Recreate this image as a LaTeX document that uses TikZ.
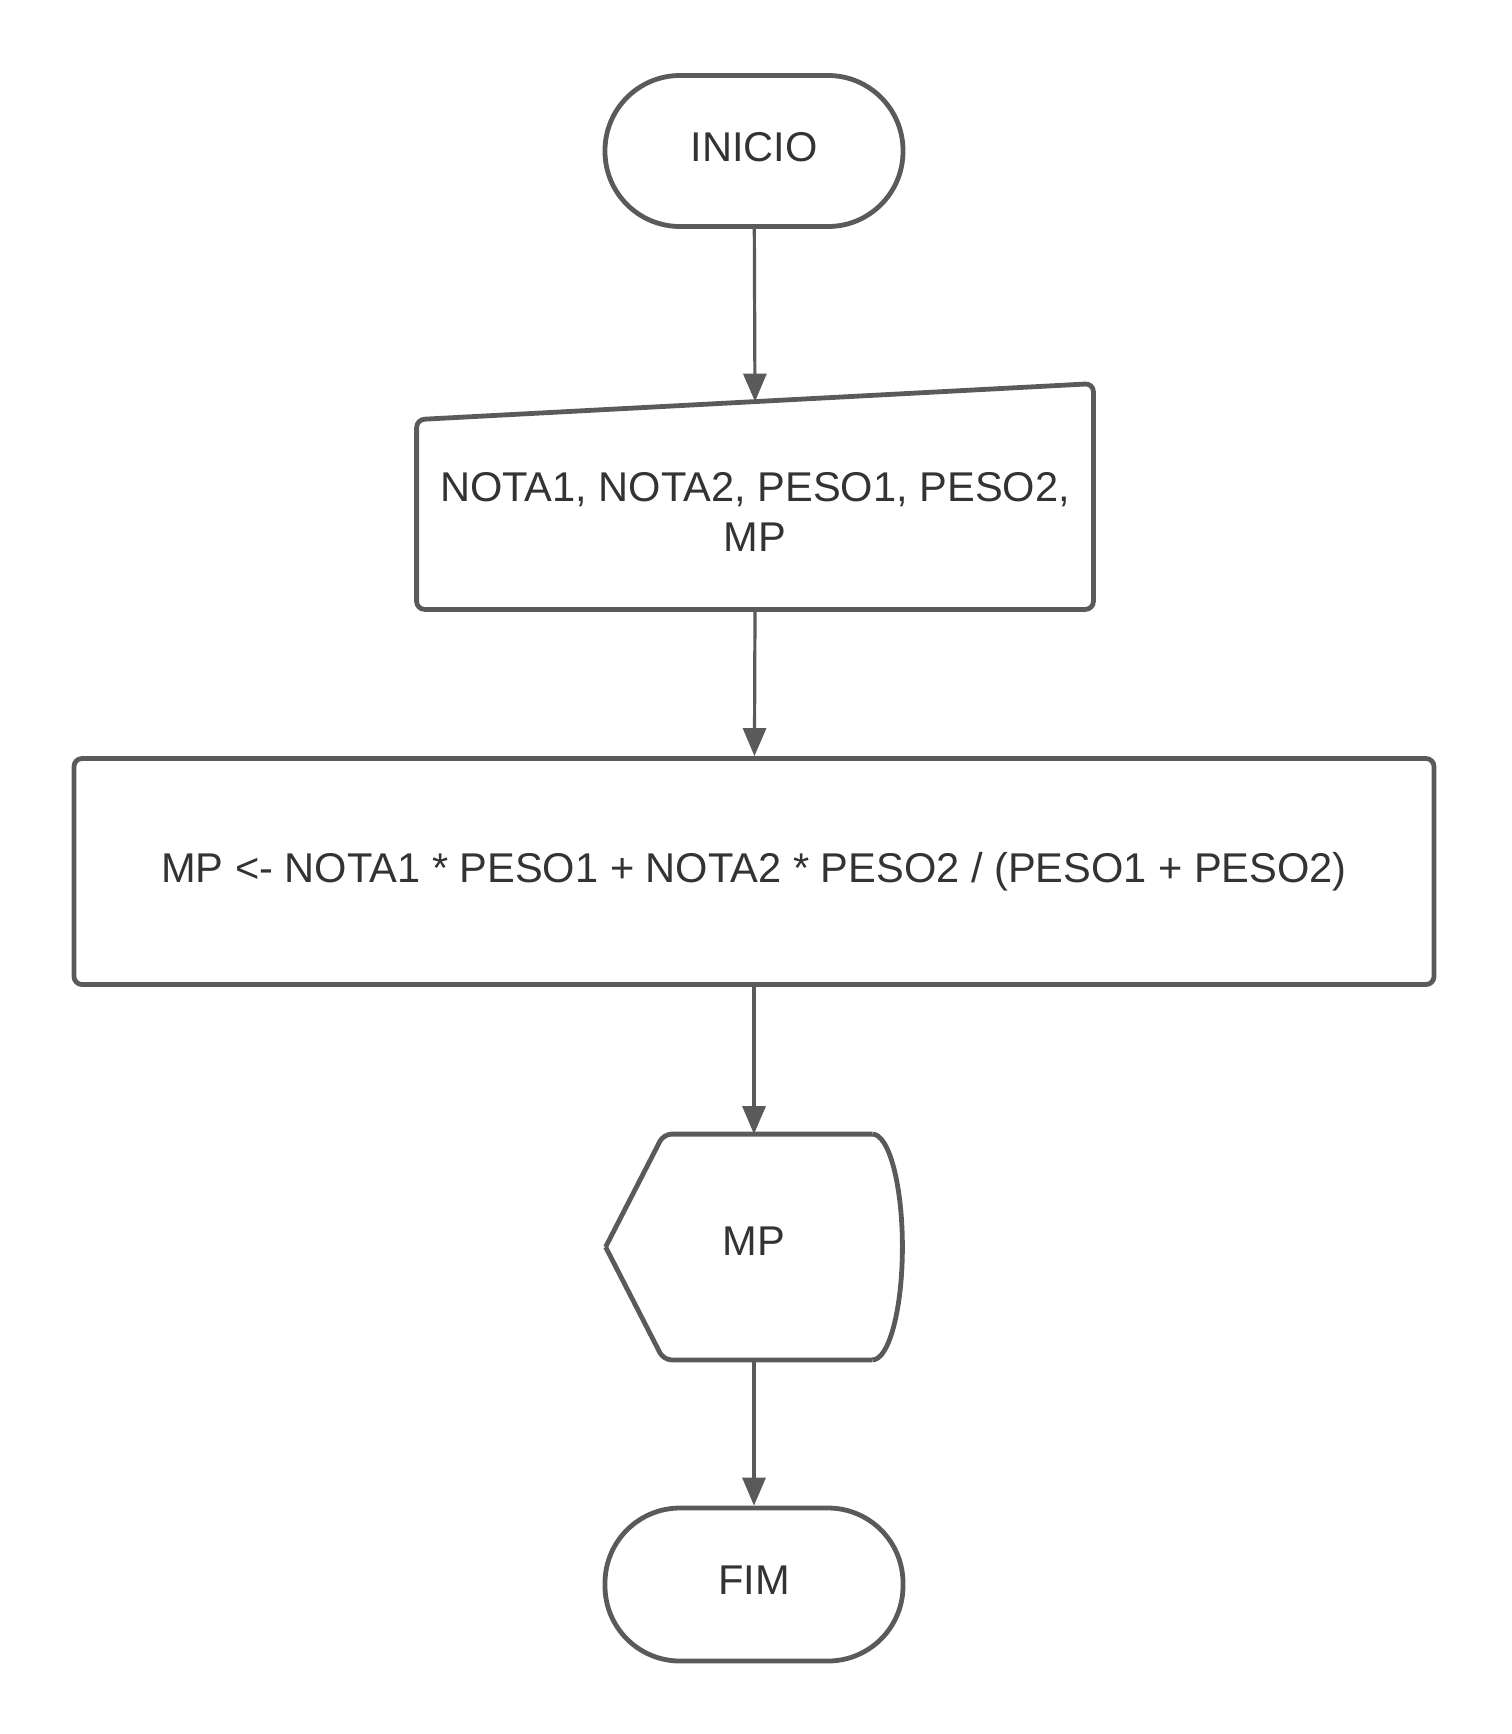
\documentclass[tikz,border=0pt]{standalone}
\usepackage{fontspec}
\setmainfont{Liberation Sans}
\usetikzlibrary{arrows.meta}
\definecolor{linegray}{HTML}{5A5A5A}
\definecolor{textgray}{HTML}{333333}
\begin{document}
\begin{tikzpicture}[x=0.5pt, y=-0.5pt,
            every node/.style={font=\fontsize{20.8pt}{25pt}\selectfont, text=textgray, align=center},
            shapeline/.style={draw=linegray, line width=2.4pt, line join=round},
            terminal/.style={shapeline, rectangle, rounded corners=37.5pt, minimum width=149pt, minimum height=75.5pt},
            procbox/.style={shapeline, rectangle, rounded corners=4pt, minimum width=680pt, minimum height=113pt},
            blank/.style={inner sep=0pt},
            flow/.style={draw=linegray, line width=1.6pt, -{Triangle[length=14pt, width=11.5pt]}}]
            \useasboundingbox (0, 0) rectangle (1511, 1734);

            \node[terminal] (inicio) at (754, 151) {\raisebox{4pt}{INICIO}};

            \node[blank, minimum width=338pt, minimum height=97pt] (input) at (755, 512)
                {NOTA1, NOTA2, PESO1, PESO2,\\MP};
            \draw[shapeline, rounded corners=4pt] (input.south west) -- ([yshift=-2.5pt]input.north west)
                -- ([yshift=15.5pt]input.north east) -- (input.south east) -- cycle;

            \node[procbox] (proc) at (754, 871.5) {MP <- NOTA1 * PESO1 + NOTA2 * PESO2 / (PESO1 + PESO2)};

            \node[blank, minimum width=148pt, minimum height=112.5pt] (disp) at (754, 1247) {\raisebox{6pt}{MP}};
            \draw[shapeline, rounded corners=4pt] (disp.west) -- ([xshift=29pt]disp.north west)
                -- ([xshift=-15pt]disp.north east);
            \draw[shapeline] ([xshift=-15pt]disp.north east)
                .. controls ([xshift=-6.7pt]disp.north east) and ([yshift=31pt]disp.east) .. (disp.east)
                .. controls ([yshift=-31pt]disp.east) and ([xshift=-6.7pt]disp.south east) .. ([xshift=-15pt]disp.south east);
            \draw[shapeline, rounded corners=4pt] ([xshift=-15pt]disp.south east) -- ([xshift=29pt]disp.south west)
                -- (disp.west);

            \node[terminal, minimum height=76.5pt] (fim) at (754, 1584.5) {\raisebox{4.5pt}{FIM}};

            \draw[flow] (inicio) -- ([yshift=6.5pt]input.north);
            \draw[flow] (input.south) -- (proc);
            \draw[flow] (proc) -- (disp);
            \draw[flow] (disp) -- (fim);
\end{tikzpicture}
\end{document}
